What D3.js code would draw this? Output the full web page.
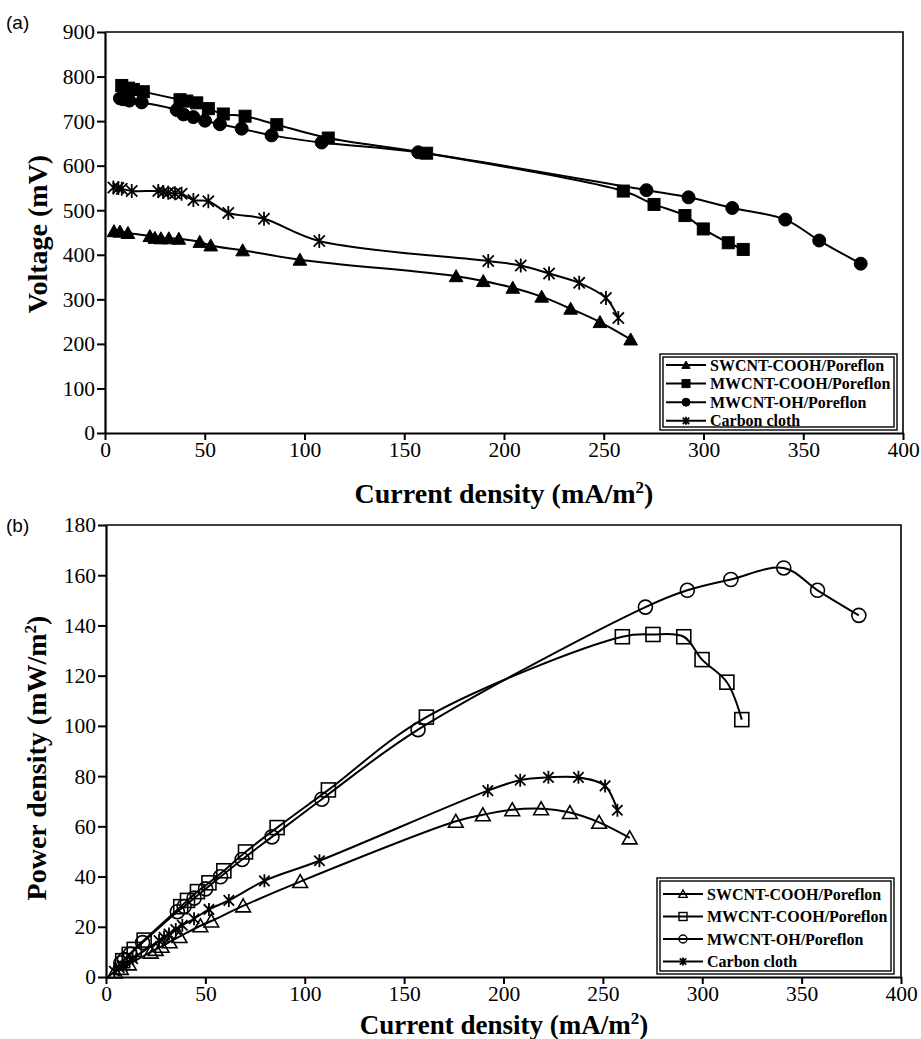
<!DOCTYPE html>
<html><head><meta charset="utf-8">
<script src="https://cdn.jsdelivr.net/npm/d3@7"></script>
<style>body{margin:0;background:#fff}</style>
</head><body>
<svg id="c" width="921" height="1039" xmlns="http://www.w3.org/2000/svg"></svg>
<script>
// ---------- data ----------
const seriesNames = ["SWCNT-COOH/Poreflon", "MWCNT-COOH/Poreflon", "MWCNT-OH/Poreflon", "Carbon cloth"];
const seriesMarkers = ["tri", "sq", "circ", "star"];

// current density (mA/m2)
const swI = [4.5, 7.5, 11.5, 22.5, 25, 28, 32, 37, 47.5, 53, 69, 97.7, 176, 189.6, 204.4, 218.9, 233.4, 248.1, 263.5];
const mcI = [8.4, 11.7, 14.2, 19.2, 37.6, 41, 46, 51.8, 59.3, 70.2, 86.1, 111.9, 161.2, 259.8, 275.2, 290.7, 299.9, 312.4, 319.9];
const moI = [7.5, 9.2, 12.2, 18.4, 35.9, 39.3, 44.3, 50.1, 57.6, 68.5, 83.5, 108.6, 157, 271.4, 292.5, 314.4, 341, 358, 378.8];
const ccI = [4.2, 6.7, 8.4, 13.4, 26.7, 29.2, 31.7, 35.1, 38.4, 44.3, 51.8, 61.8, 79.7, 107.4, 192.1, 208.4, 222.6, 237.7, 251.1, 257.3];

// voltage (mV)
const swV = [453, 452, 449, 442, 438, 437, 437, 436, 429, 421, 410, 389, 352, 341, 326, 306, 279, 249, 210];
const mcV = [780, 774, 771, 766, 748, 745, 741, 728, 716, 711, 692, 662, 628, 543, 513, 488, 458, 427, 412];
const moV = [751, 749, 746, 742, 725, 715, 709, 701, 693, 683, 668, 652, 630, 545, 529, 505, 479, 432, 380];
const ccV = [551, 550, 548, 543, 543, 541, 539, 538, 537, 523, 520, 494, 481, 431, 386, 376, 358, 337, 303, 258];

// power density (mW/m2)
const swP = [2.0, 3.4, 5.2, 9.9, 11.0, 12.2, 14.0, 16.1, 20.4, 22.3, 28.3, 38.0, 62.0, 64.6, 66.6, 67.0, 65.5, 61.6, 55.4];
const mcP = [6.5, 9.0, 11.0, 14.7, 28.0, 30.5, 34.0, 37.5, 42.3, 49.8, 59.5, 74.5, 103.5, 135.5, 136.4, 135.5, 126.4, 117.4, 102.5];
const moP = [5.6, 6.9, 9.1, 13.7, 26.0, 28.1, 31.4, 35.1, 39.9, 46.8, 55.8, 70.8, 98.5, 147.3, 154.0, 158.3, 162.9, 154.0, 144.0];
const ccP = [2.3, 3.7, 4.6, 7.3, 14.5, 15.8, 17.1, 18.9, 20.6, 23.2, 26.9, 30.5, 38.3, 46.3, 74.2, 78.4, 79.5, 79.5, 76.1, 66.4];

const xTicks = [0, 50, 100, 150, 200, 250, 300, 350, 400];
const vTicks = [0, 100, 200, 300, 400, 500, 600, 700, 800, 900];
const pTicks = [0, 20, 40, 60, 80, 100, 120, 140, 160, 180];

// ---------- drawing ----------
const svg = d3.select("#c");
const SERIF = "'Liberation Serif','Times New Roman',serif";
const SANS = "'Liberation Sans',Arial,sans-serif";

function marker(g, type, x, y, s, filled, sw) {
  const fill = filled ? "#000" : "none";
  const h = s / 2;
  if (type === "tri") {
    g.append("path").attr("d", `M${x},${y - h}L${x + h * 1.05},${y + h * 0.85}L${x - h * 1.05},${y + h * 0.85}Z`)
      .attr("fill", fill).attr("stroke", "#000").attr("stroke-width", sw).attr("stroke-linejoin", "miter");
  } else if (type === "sq") {
    g.append("rect").attr("x", x - h).attr("y", y - h).attr("width", s).attr("height", s)
      .attr("fill", fill).attr("stroke", "#000").attr("stroke-width", sw);
  } else if (type === "circ") {
    g.append("circle").attr("cx", x).attr("cy", y).attr("r", h)
      .attr("fill", fill).attr("stroke", "#000").attr("stroke-width", sw);
  } else {
    const d = h * 0.8;
    g.append("path").attr("d", `M${x},${y - h}V${y + h}M${x - d},${y - d}L${x + d},${y + d}M${x - d},${y + d}L${x + d},${y - d}`)
      .attr("fill", "none").attr("stroke", "#000").attr("stroke-width", 1.8);
  }
}

function panel(cfg) {
  const x = d3.scaleLinear().domain([0, 400]).range([cfg.x0, cfg.x1]);
  const y = d3.scaleLinear().domain([0, cfg.ymax]).range([cfg.y0, cfg.y1]);
  const g = svg.append("g");

  // frame top/right
  g.append("path").attr("d", `M${cfg.x0},${cfg.y1}H${cfg.x1}V${cfg.y0}`)
    .attr("fill", "none").attr("stroke", "#000").attr("stroke-width", 1.6);

  const xa = g.append("g").attr("transform", `translate(0,${cfg.y0})`)
    .call(d3.axisBottom(x).tickValues(xTicks).tickSize(7).tickSizeOuter(0).tickPadding(2));
  const ya = g.append("g").attr("transform", `translate(${cfg.x0},0)`)
    .call(d3.axisLeft(y).tickValues(cfg.yTicks).tickSize(8).tickSizeOuter(0).tickPadding(2));
  [xa, ya].forEach(a => {
    a.attr("font-family", SERIF).attr("font-size", 21);
    a.select(".domain").attr("stroke-width", 2.2);
    a.selectAll(".tick line").attr("stroke-width", 2);
    a.selectAll("text").style("font-family", SERIF).style("font-size", "21.5px").attr("fill", "#000");
  });

  // series
  cfg.series.forEach((s, i) => {
    const pts = s.I.map((v, k) => [x(v), y(s.Y[k])]);
    g.append("path").attr("d", d3.line().curve(d3.curveCatmullRom.alpha(0.5))(pts))
      .attr("fill", "none").attr("stroke", "#000").attr("stroke-width", 2);
    const mg = g.append("g");
    pts.forEach(p => marker(mg, seriesMarkers[i], p[0], p[1], cfg.msize[i], cfg.filled, cfg.filled ? 1 : 1.6));
  });

  // titles
  const xt = g.append("text").attr("x", cfg.xtX).attr("y", cfg.xtY).attr("text-anchor", "middle")
    .style("font-family", SERIF).attr("font-weight", "bold").style("font-size", cfg.xtFs + "px");
  xt.append("tspan").text("Current density (mA/m");
  xt.append("tspan").attr("dy", -10).style("font-size", "17px").text("2");
  xt.append("tspan").attr("dy", 10).text(")");

  const yt = g.append("text").attr("transform", `translate(${cfg.ytX},${cfg.ytY}) rotate(-90)`)
    .attr("text-anchor", "middle").style("font-family", SERIF).attr("font-weight", "bold").style("font-size", "28px");
  cfg.yTitle.forEach(p => {
    const t = yt.append("tspan").text(p.t);
    if (p.dy) t.attr("dy", p.dy);
    if (p.fs) t.style("font-size", p.fs + "px");
  });

  g.append("text").attr("x", 6).attr("y", cfg.labY).style("font-family", SANS).style("font-size", "19px").text(cfg.label);

  // legend
  const L = cfg.leg;
  g.append("rect").attr("x", L.x).attr("y", L.y).attr("width", L.w).attr("height", L.h)
    .attr("fill", "#fff").attr("stroke", "#000").attr("stroke-width", 1.4);
  g.append("rect").attr("x", L.x + 3).attr("y", L.y + 3).attr("width", L.w - 6).attr("height", L.h - 6)
    .attr("fill", "none").attr("stroke", "#000").attr("stroke-width", 1.4);
  seriesNames.forEach((n, i) => {
    const cy = L.y + L.first + i * L.step;
    g.append("line").attr("x1", L.x + 6).attr("x2", L.x + 46).attr("y1", cy).attr("y2", cy)
      .attr("stroke", "#000").attr("stroke-width", 2);
    marker(g, seriesMarkers[i], L.x + 26, cy, 8, cfg.filled, cfg.filled ? 1 : 1.4);
    g.append("text").attr("x", L.x + 50).attr("y", cy).attr("dy", "0.35em")
      .style("font-family", SERIF).attr("font-weight", "bold").style("font-size", "16px").text(n);
  });
}

panel({
  x0: 105, x1: 903, y0: 433, y1: 32, ymax: 900, yTicks: vTicks, filled: true,
  msize: [13, 12, 13, 14],
  series: [{ I: swI, Y: swV }, { I: mcI, Y: mcV }, { I: moI, Y: moV }, { I: ccI, Y: ccV }],
  xtX: 504, xtY: 503, xtFs: 28, ytX: 47, ytY: 234,
  yTitle: [{ t: "Voltage (mV)" }],
  label: "(a)", labY: 29,
  leg: { x: 660, y: 354, w: 237, h: 76, first: 11, step: 18.6 }
});

panel({
  x0: 106, x1: 901, y0: 977, y1: 525, ymax: 180, yTicks: pTicks, filled: false,
  msize: [14, 14, 14, 13],
  series: [{ I: swI, Y: swP }, { I: mcI, Y: mcP }, { I: moI, Y: moP }, { I: ccI, Y: ccP }],
  xtX: 504, xtY: 1034, xtFs: 27, ytX: 46, ytY: 758,
  yTitle: [{ t: "Power density (mW/m" }, { t: "2", dy: -10, fs: 17 }, { t: ")", dy: 10 }],
  label: "(b)", labY: 532,
  leg: { x: 657, y: 878, w: 237, h: 96, first: 16, step: 22.5 }
});
</script>
</body></html>
